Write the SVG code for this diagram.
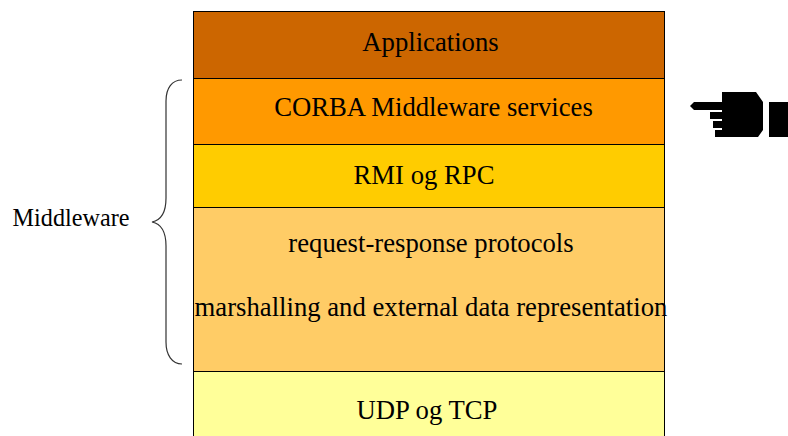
<svg xmlns="http://www.w3.org/2000/svg" width="788" height="436" viewBox="0 0 788 436">
<style>
.l{stroke:#000;stroke-width:1}
text{font-family:"Liberation Serif","Times New Roman",serif;font-size:26.700px;fill:#000;text-anchor:middle}
</style>
<rect width="788" height="436" fill="#fff"/>
<g id="applications"><rect class="l" x="193.500" y="11.500" width="471" height="67" fill="#c60"/><text x="430.500" y="51">Applications</text></g>
<g id="corba"><rect class="l" x="193.500" y="78.500" width="471" height="66" fill="#f90"/><text x="433.500" y="115.500">CORBA Middleware services</text></g>
<g id="rmi"><rect class="l" x="193.500" y="144.500" width="471" height="63" fill="#fc0"/><text x="424" y="183.500">RMI og RPC</text></g>
<g id="protocols"><rect class="l" x="193.500" y="207.500" width="471" height="164" fill="#fc6"/><text x="431" y="251.500">request-response protocols</text><text x="431" y="315.500">marshalling and external data representation</text></g>
<g id="udp"><rect class="l" x="193.500" y="371.500" width="471" height="70" fill="#ff9"/><text x="427" y="418.500">UDP og TCP</text></g>
<g id="middleware"><text x="71" y="226" style="font-size:24.200px">Middleware</text>
<path d="M182 80C172 80 166 88 166 101V198C166 211 162 220 152 222C162 224 166 233 166 246V342C166 355 172 364 182 364" fill="none" stroke="#333" stroke-width="1.200"/></g>
<g id="hand" fill="#000">
<path d="M722 92H756L763 102V130L758 137H715V130H722V128H713V121H722V119H710V112H722V110H694L690 106L694 102H722Z"/>
<rect x="769" y="102" width="19" height="35"/>
</g>
</svg>
